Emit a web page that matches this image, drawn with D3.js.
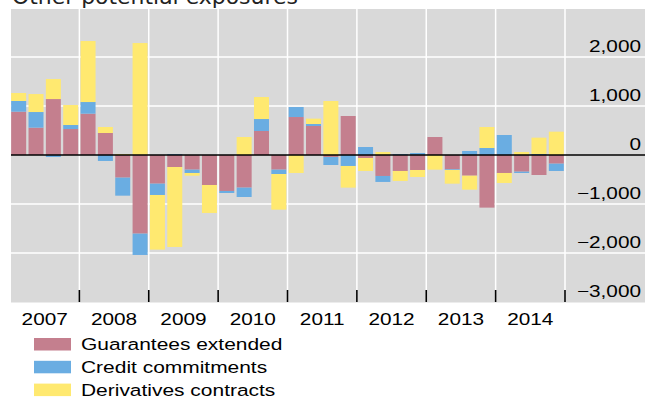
<!DOCTYPE html>
<html>
<head>
<meta charset="utf-8">
<script src="https://cdn.jsdelivr.net/npm/d3@7"></script>
<style>
  body { margin: 0; background: #fff; }
  svg text { font-family: "Liberation Sans", Arial, Helvetica, sans-serif; fill: #000; }
</style>
</head>
<body>
<svg id="chart" width="645" height="398"></svg>
<script>
// Quarterly changes, by type of exposure
const years = ["2007", "2008", "2009", "2010", "2011", "2012", "2013", "2014"];
const quarterNames = ["Q1", "Q2", "Q3", "Q4"];

const guarantees = [
   884,   558,  1142,   530,
   843,   449,  -462, -1605,
  -585,  -245,  -299,  -612,
  -734,  -666,   490,  -299,
   775,   592,   -41,   796,
   -61,  -428,  -326,  -306,
   367,  -292,  -422, -1074,
  -367,  -340,  -408,  -177
];
const credit = [
   218,   319,   -41,    82,
   238,  -122,  -368,  -435,
  -231,    20,   -68,     0,
   -41,  -191,   244,   -89,
   204,    41,  -163,  -224,
   163,  -122,    20,    41,
     0,   -14,    82,   143,
   408,   -27,    20,  -149
];
const derivatives = [
   163,   367,   408,   408,
  1245,   122,    20,  2285,
 -1115, -1632,   -55,  -571,
     0,   367,   449,  -727,
  -367,   109,  1102,  -442,
  -265,    61,  -204,  -143,
  -299,  -279,  -285,   428,
  -204,    61,   334,   476
];

const seriesNames = ["Guarantees extended", "Credit commitments", "Derivatives contracts"];
const seriesColors = ["#c47f8e", "#6aade2", "#ffe970"];
const yTickValues = [2000, 1000, 0, -1000, -2000, -3000];
const titleText = "Other potential exposures";

// Rows for the stack layout
const quarters = years.flatMap(y => quarterNames.map(q => `${y} ${q}`));
const keys = ["g", "c", "d"];
const rows = quarters.map((q, i) => ({ q, g: guarantees[i], c: credit[i], d: derivatives[i] }));

const svg = d3.select("#chart");
const panel = { left: 11, right: 645, top: 9, bottom: 302 };
const plotRight = 565;

const x = d3.scaleBand().domain(quarters).range([10, plotRight])
  .paddingInner(0.135).paddingOuter(0.0675);
const xYear = d3.scaleBand().domain(years).range([10, plotRight]);
const y = d3.scaleLinear().domain([-3000, 3000]).range([302, 8]);

const stacked = d3.stack().keys(keys).offset(d3.stackOffsetDiverging)(rows);

// Text widened horizontally like the original typesetting
function widen(sel, k) {
  sel.each(function () {
    const t = d3.select(this);
    const tx = +t.attr("data-x"), ty = +t.attr("data-y");
    t.attr("transform", `translate(${tx},${ty}) scale(${k},1)`);
  });
}

// Title (mostly above the top edge)
const title = svg.append("text")
  .attr("x", 0).attr("y", 0)
  .style("font-family", "'DejaVu Sans', Verdana, sans-serif")
  .style("font-size", "22px")
  .style("fill", "#222")
  .text(titleText);
{
  const w = title.node().getComputedTextLength();
  title.attr("transform", `translate(12,3.5) scale(${286 / w},1)`);
}

// Panel background
svg.append("rect")
  .attr("x", panel.left).attr("y", panel.top)
  .attr("width", panel.right - panel.left).attr("height", panel.bottom - panel.top)
  .attr("fill", "#d9d9d9");

// Horizontal grid lines
svg.append("g").selectAll("line")
  .data(yTickValues.filter(v => v !== 0 && v !== -3000))
  .join("line")
  .attr("x1", panel.left).attr("x2", panel.right)
  .attr("y1", d => y(d)).attr("y2", d => y(d))
  .attr("stroke", "#fff").attr("stroke-width", 1.5);

// Vertical grid lines at year boundaries
svg.append("g").selectAll("line")
  .data(years)
  .join("line")
  .attr("x1", d => xYear(d) + xYear.bandwidth()).attr("x2", d => xYear(d) + xYear.bandwidth())
  .attr("y1", panel.top).attr("y2", panel.bottom)
  .attr("stroke", "#fff").attr("stroke-width", 1.5);

// Bars
svg.append("g").selectAll("g")
  .data(stacked)
  .join("g")
  .attr("fill", (d, i) => seriesColors[i])
  .selectAll("rect")
  .data(d => d)
  .join("rect")
  .attr("x", d => x(d.data.q))
  .attr("width", x.bandwidth())
  .attr("y", d => y(Math.max(d[0], d[1])))
  .attr("height", d => Math.abs(y(d[0]) - y(d[1])));

// Zero line
svg.append("line")
  .attr("x1", panel.left).attr("x2", panel.right)
  .attr("y1", y(0)).attr("y2", y(0))
  .attr("stroke", "#000").attr("stroke-width", 1.3);

// Year tick marks along the bottom
svg.append("g").selectAll("line")
  .data(years)
  .join("line")
  .attr("x1", d => xYear(d) + xYear.bandwidth()).attr("x2", d => xYear(d) + xYear.bandwidth())
  .attr("y1", 290).attr("y2", panel.bottom)
  .attr("stroke", "#000").attr("stroke-width", 1.6);

// Faint bottom edge
svg.append("line")
  .attr("x1", panel.left).attr("x2", panel.right)
  .attr("y1", panel.bottom + 0.5).attr("y2", panel.bottom + 0.5)
  .attr("stroke", "#ececec").attr("stroke-width", 1);

// Y labels on the right, sitting just above their grid lines
const fmt = d3.format(",");
svg.append("g").selectAll("text")
  .data(yTickValues)
  .join("text")
  .attr("data-x", 641).attr("data-y", d => y(d) - 4.7)
  .attr("text-anchor", "end")
  .style("font-size", "16.5px")
  .text(d => fmt(d))
  .call(widen, 1.26);

// Year labels
svg.append("g").selectAll("text")
  .data(years)
  .join("text")
  .attr("data-x", d => xYear(d) + xYear.bandwidth() / 2).attr("data-y", 325)
  .attr("text-anchor", "middle")
  .style("font-size", "16.5px")
  .text(d => d)
  .call(widen, 1.26);

// Legend
const legend = svg.append("g").selectAll("g")
  .data(seriesNames)
  .join("g");
legend.append("rect")
  .attr("x", 34).attr("y", (d, i) => 338 + i * 22.8)
  .attr("width", 37).attr("height", 12.5)
  .attr("fill", (d, i) => seriesColors[i]);
legend.append("text")
  .attr("data-x", 81).attr("data-y", (d, i) => 350.2 + i * 22.8)
  .style("font-size", "16.5px")
  .text(d => d)
  .call(widen, 1.27);
</script>
</body>
</html>
